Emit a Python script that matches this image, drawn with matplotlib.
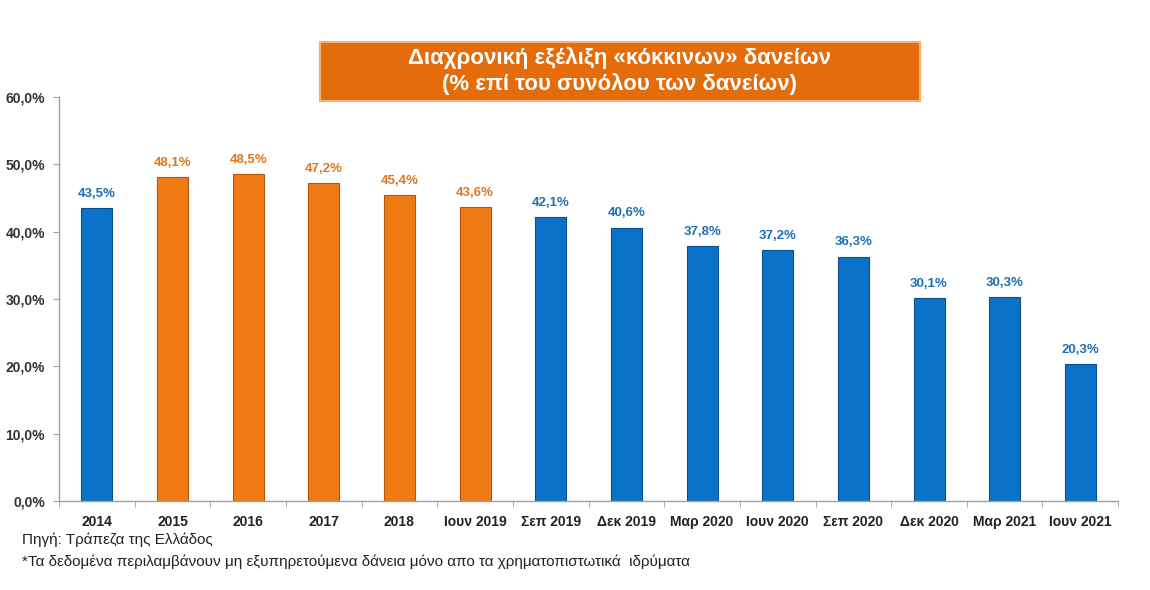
import matplotlib.pyplot as plt
import matplotlib.patches as patches
import numpy as np

plt.rcParams['font.family'] = ['Liberation Sans', 'DejaVu Sans']

# Data
categories = ['2014', '2015', '2016', '2017', '2018', 'Ιουν 2019', 'Σεπ 2019', 'Δεκ 2019',
              'Μαρ 2020', 'Ιουν 2020', 'Σεπ 2020', 'Δεκ 2020', 'Μαρ 2021', 'Ιουν 2021']
npl_share = [43.5, 48.1, 48.5, 47.2, 45.4, 43.6, 42.1, 40.6, 37.8, 37.2, 36.3, 30.1, 30.3, 20.3]
is_orange = [False, True, True, True, True, True, False, False, False, False, False, False, False, False]

blue = '#0A72C8'
blue_edge = '#0B4F8C'
blue_text = '#1F6FB8'
orange = '#F07A14'
orange_edge = '#B5560A'
orange_text = '#E0761C'

fig = plt.figure(figsize=(11.5, 5.9), dpi=100, facecolor='white')
ax = fig.add_axes([0.0513, 0.1508, 0.921, 0.685])

x = np.arange(len(categories))
for xi, v, o in zip(x, npl_share, is_orange):
    ax.bar(xi, v, width=0.41, color=orange if o else blue,
           edgecolor=orange_edge if o else blue_edge, linewidth=0.8, zorder=2)
    ax.text(xi, v + 1.2, f"{v:.1f}%".replace('.', ','), ha='center', va='bottom',
            fontsize=9.5, fontweight='bold', color=orange_text if o else blue_text)

ax.set_xlim(-0.5, len(categories) - 0.5)
ax.set_ylim(0, 60)
ax.set_yticks(np.arange(0, 61, 10))
ax.set_yticklabels([f"{t:.1f}%".replace('.', ',') for t in np.arange(0, 61, 10)],
                   fontsize=10, fontweight='bold', color='#333333')
ax.set_xticks(x)
ax.set_xticklabels(categories, fontsize=10, fontweight='bold', color='#222222')
ax.set_xticks(np.arange(-0.5, len(categories), 1), minor=True)
ax.tick_params(axis='x', which='major', length=0, pad=10)
ax.tick_params(axis='x', which='minor', length=4, color='#A0A0A0')
ax.tick_params(axis='y', length=4, color='#A0A0A0', pad=6)

for s in ['top', 'right']:
    ax.spines[s].set_visible(False)
for s in ['left', 'bottom']:
    ax.spines[s].set_color('#A0A0A0')
    ax.spines[s].set_linewidth(1)

# Title box
title_ax = fig.add_axes([0, 0, 1, 1], zorder=5)
title_ax.set_axis_off()
title_ax.set_xlim(0, 1150)
title_ax.set_ylim(590, 0)
title_ax.add_patch(patches.Rectangle((320, 42), 600, 59, facecolor='#E46C0A',
                                     edgecolor='#F2B27E', linewidth=1.5))
title_ax.text(620, 58, 'Διαχρονική εξέλιξη «κόκκινων» δανείων', ha='center', va='center',
              fontsize=16, fontweight='bold', color='white')
title_ax.text(620, 84, '(% επί του συνόλου των δανείων)', ha='center', va='center',
              fontsize=16, fontweight='bold', color='white')

# Footnotes
title_ax.text(22, 540, 'Πηγή: Τράπεζα της Ελλάδος', ha='left', va='center',
              fontsize=11, color='#222222')
title_ax.text(22, 562, '*Τα δεδομένα περιλαμβάνουν μη εξυπηρετούμενα δάνεια μόνο απο τα χρηματοπιστωτικά  ιδρύματα',
              ha='left', va='center', fontsize=11, color='#222222')

fig.savefig('out.png', dpi=100, facecolor='white')
